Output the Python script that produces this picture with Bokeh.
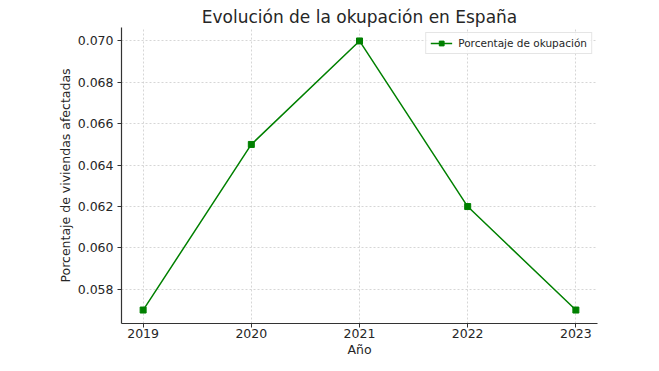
from bokeh.plotting import figure
from bokeh.models import Range1d, FixedTicker, Legend, LegendItem, CustomJSTickFormatter
from bokeh.embed import file_html
from bokeh.resources import INLINE

years = [2019, 2020, 2021, 2022, 2023]
values = [0.057, 0.065, 0.070, 0.062, 0.057]
y_ticks = [0.058, 0.060, 0.062, 0.064, 0.066, 0.068, 0.070]
series_name = "Porcentaje de okupación"

FONT = "DejaVu Sans"
GREEN = "#008000"

p = figure(width=659, height=371, output_backend="svg", toolbar_location=None,
           x_range=Range1d(2018.8, 2023.2), y_range=Range1d(0.05635, 0.07065),
           min_border_left=121, min_border_right=62, min_border_top=27, min_border_bottom=48)

p.title.text = "Evolución de la okupación en España"
p.title.align = "center"
p.title.text_font = FONT
p.title.text_font_size = "17px"
p.title.text_font_style = "normal"
p.title.text_color = "#262626"
p.title.offset = 0
p.title.standoff = 2

p.outline_line_color = None
p.background_fill_color = "white"

line = p.line(years, values, line_color=GREEN, line_width=1.5)
pts = p.scatter(years, values, marker="square", size=6, fill_color=GREEN, line_color=GREEN)

legend = Legend(items=[LegendItem(label=series_name, renderers=[line, pts])],
                location="top_right", label_text_font=FONT, label_text_font_size="10.5px",
                label_text_color="#262626", border_line_color="#cccccc", border_line_width=1,
                background_fill_alpha=0.8, padding=4, spacing=0, margin=5,
                glyph_width=22, glyph_height=12, label_standoff=6, label_height=12)
p.add_layout(legend)

p.xaxis.ticker = FixedTicker(ticks=years)
p.yaxis.ticker = FixedTicker(ticks=y_ticks)
p.yaxis.formatter = CustomJSTickFormatter(code="return tick.toFixed(3);")

for ax in (p.xaxis[0], p.yaxis[0]):
    ax.major_label_text_font = FONT
    ax.major_label_text_font_size = "12.5px"
    ax.major_label_text_color = "#262626"
    ax.axis_label_text_font = FONT
    ax.axis_label_text_font_size = "12.5px"
    ax.axis_label_text_font_style = "normal"
    ax.axis_label_text_color = "#262626"
    ax.axis_line_color = "#333333"
    ax.axis_line_width = 1.2
    ax.major_tick_line_color = "#333333"
    ax.major_tick_out = 4
    ax.major_tick_in = 0
    ax.minor_tick_line_color = None

p.xaxis.axis_label = "Año"
p.yaxis.axis_label = "Porcentaje de viviendas afectadas"
p.xaxis.major_label_standoff = 1
p.yaxis.major_label_standoff = 4
p.xaxis.axis_label_standoff = 1
p.yaxis.axis_label_standoff = 2

p.xgrid.grid_line_color = "#cccccc"
p.ygrid.grid_line_color = "#cccccc"
p.xgrid.grid_line_dash = "2 2"
p.ygrid.grid_line_dash = "2 2"
p.xgrid.grid_line_width = 0.8
p.ygrid.grid_line_width = 0.8

open("out.html", "w").write(file_html(p, INLINE))
